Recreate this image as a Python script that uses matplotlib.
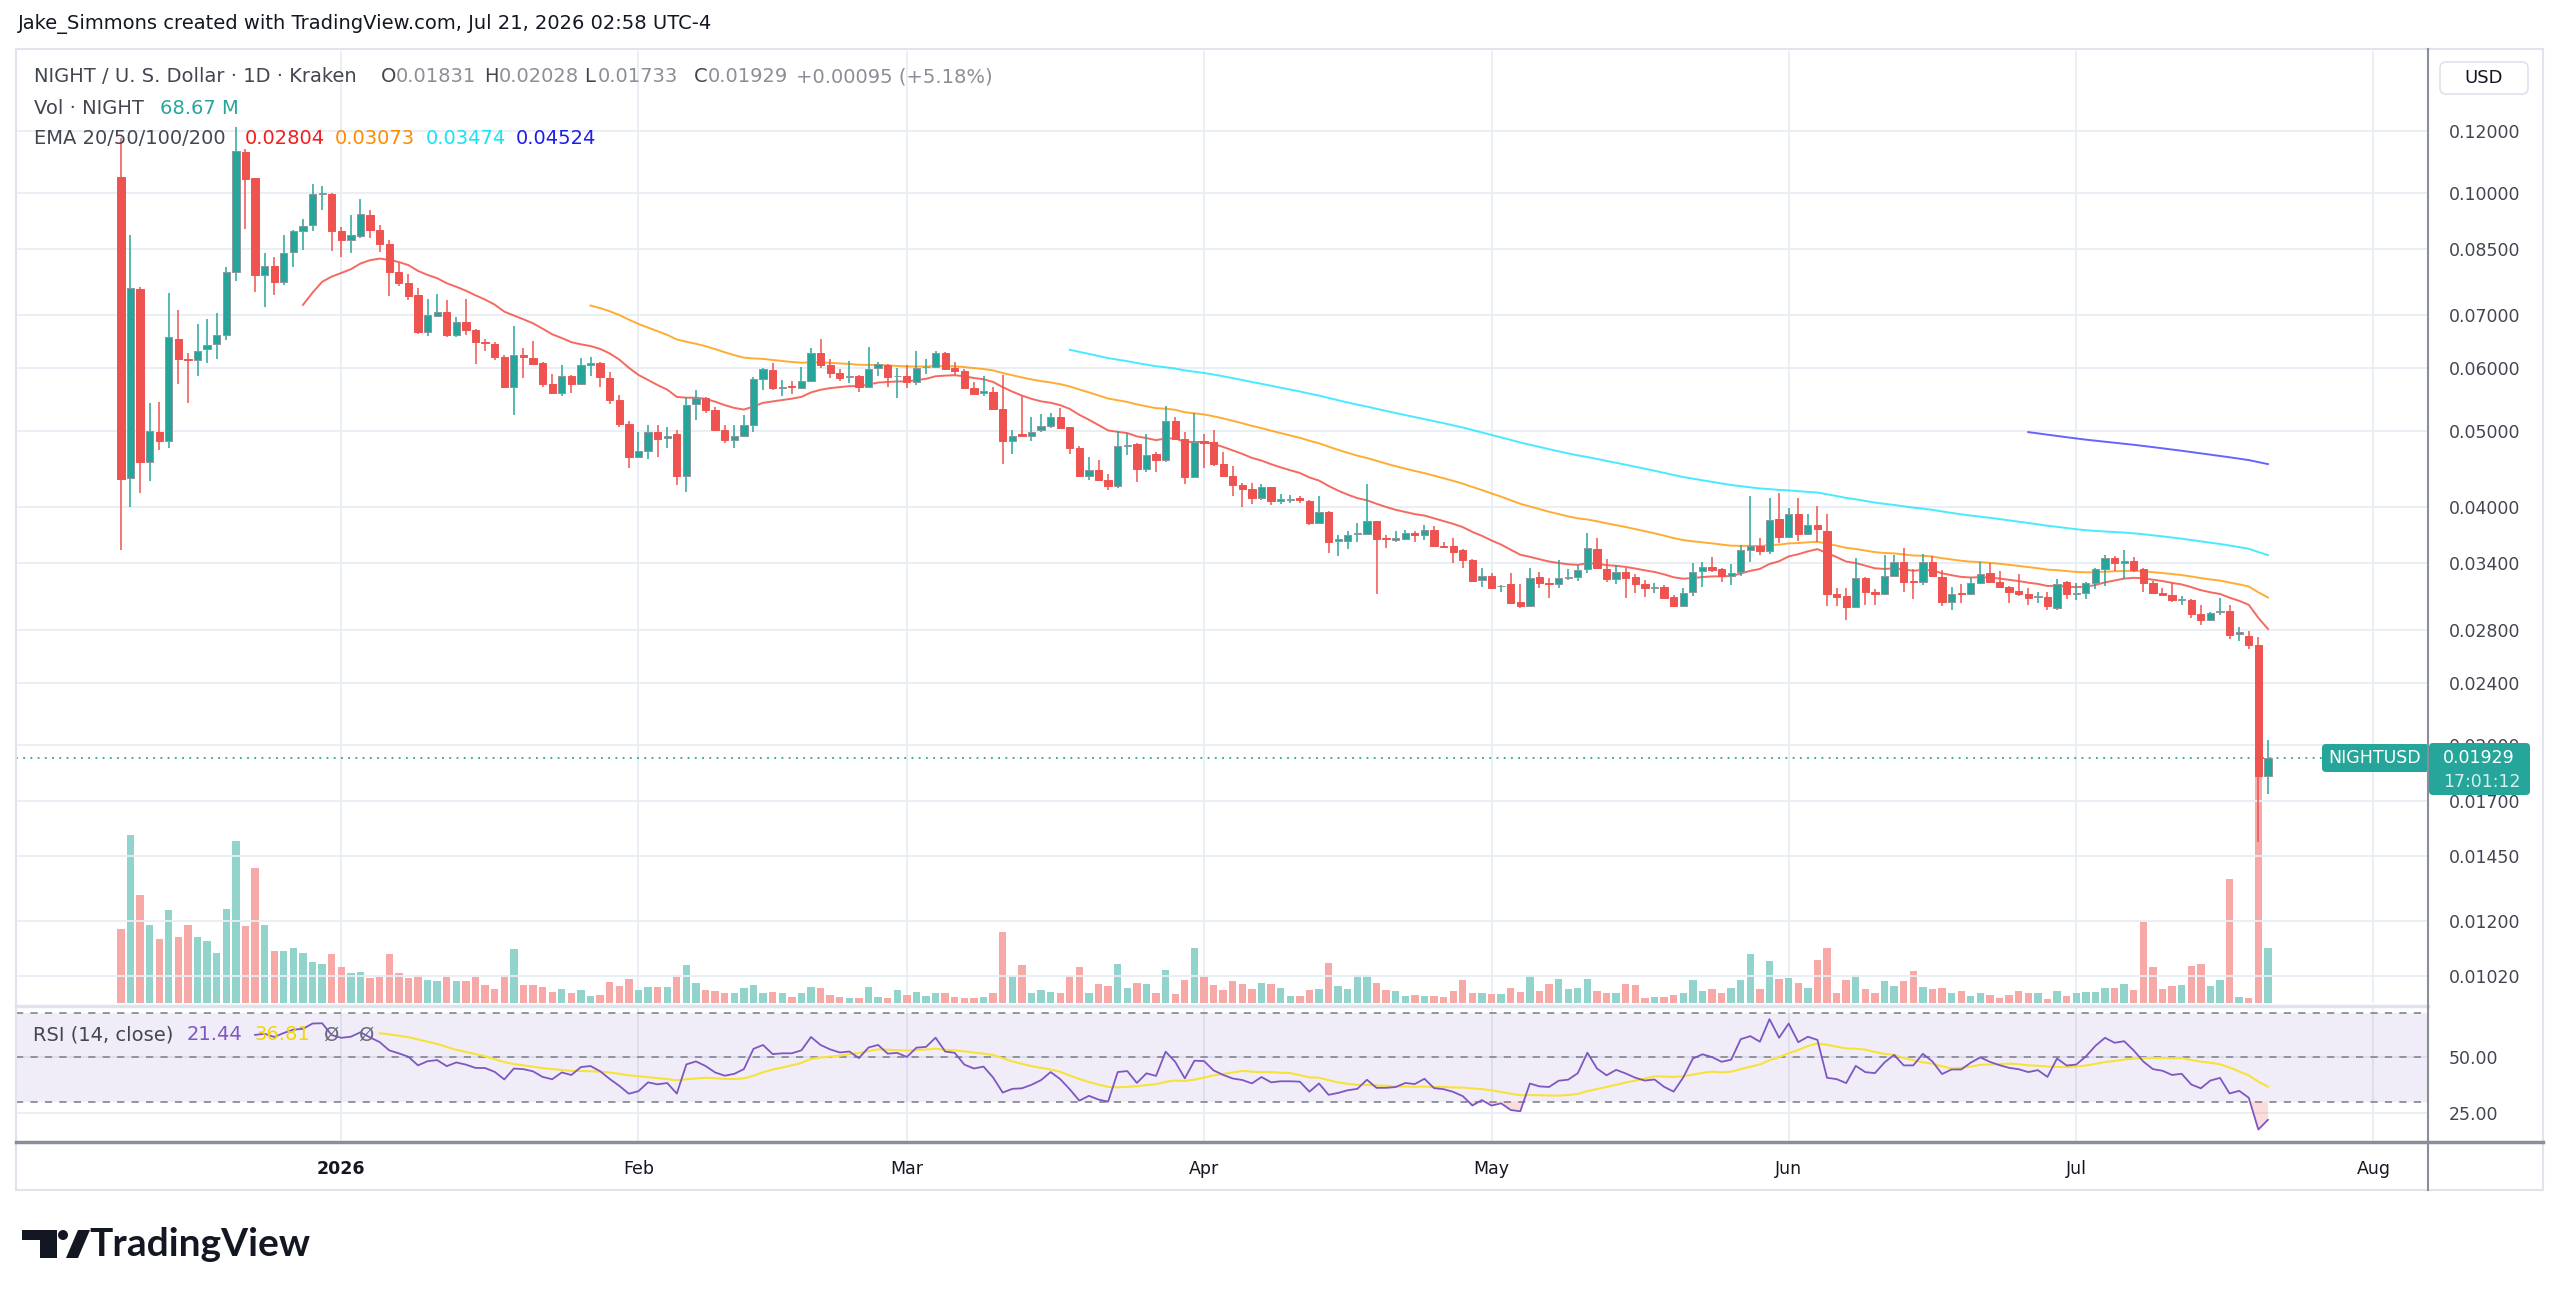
import numpy as np
import pandas as pd
import matplotlib
matplotlib.use('Agg')
import matplotlib.pyplot as plt
import matplotlib.dates as mdates
from matplotlib.patches import Rectangle, FancyBboxPatch, Polygon, Circle

# daily NIGHT/USD candles, 2025-12-09 .. 2026-07-21
opens = [0.1047, 0.0436, 0.0757, 0.0457, 0.0499, 0.0485, 0.0654, 0.0617, 0.0614, 0.0634,
         0.0644, 0.0661, 0.0794, 0.1126, 0.1044, 0.0788, 0.0809, 0.0771, 0.0841, 0.0896,
         0.0910, 0.0998, 0.0997, 0.0895, 0.0871, 0.0882, 0.0938, 0.0899, 0.0862, 0.0794,
         0.0769, 0.0742, 0.0668, 0.0699, 0.0708, 0.0661, 0.0686, 0.0670, 0.0647, 0.0645,
         0.0621, 0.0569, 0.0624, 0.0618, 0.0609, 0.0573, 0.0559, 0.0587, 0.0573, 0.0606,
         0.0610, 0.0583, 0.0547, 0.0510, 0.0463, 0.0471, 0.0499, 0.0490, 0.0495, 0.0439,
         0.0540, 0.0551, 0.0531, 0.0501, 0.0487, 0.0493, 0.0508, 0.0582, 0.0597, 0.0567,
         0.0570, 0.0567, 0.0579, 0.0628, 0.0606, 0.0592, 0.0585, 0.0586, 0.0568, 0.0601,
         0.0605, 0.0586, 0.0587, 0.0577, 0.0602, 0.0602, 0.0628, 0.0600, 0.0596, 0.0567,
         0.0558, 0.0560, 0.0533, 0.0485, 0.0495, 0.0493, 0.0502, 0.0507, 0.0521, 0.0505,
         0.0476, 0.0438, 0.0446, 0.0433, 0.0426, 0.0478, 0.0481, 0.0448, 0.0467, 0.0459,
         0.0514, 0.0488, 0.0437, 0.0485, 0.0484, 0.0454, 0.0439, 0.0427, 0.0422, 0.0411,
         0.0424, 0.0408, 0.0409, 0.0411, 0.0408, 0.0382, 0.0395, 0.0363, 0.0363, 0.0370,
         0.0370, 0.0384, 0.0366, 0.0364, 0.0365, 0.0371, 0.0369, 0.0375, 0.0358, 0.0357,
         0.0353, 0.0343, 0.0324, 0.0328, 0.0318, 0.0320, 0.0304, 0.0300, 0.0327, 0.0321,
         0.0320, 0.0326, 0.0327, 0.0334, 0.0354, 0.0334, 0.0325, 0.0331, 0.0327, 0.0320,
         0.0316, 0.0317, 0.0308, 0.0300, 0.0313, 0.0332, 0.0336, 0.0334, 0.0328, 0.0331,
         0.0353, 0.0357, 0.0352, 0.0387, 0.0367, 0.0393, 0.0370, 0.0380, 0.0374, 0.0311,
         0.0309, 0.0299, 0.0326, 0.0313, 0.0311, 0.0328, 0.0341, 0.0323, 0.0322, 0.0341,
         0.0327, 0.0304, 0.0312, 0.0311, 0.0321, 0.0330, 0.0322, 0.0317, 0.0314, 0.0311,
         0.0308, 0.0308, 0.0298, 0.0322, 0.0311, 0.0312, 0.0321, 0.0334, 0.0345, 0.0340,
         0.0342, 0.0334, 0.0321, 0.0312, 0.0310, 0.0305, 0.0305, 0.0293, 0.0288, 0.0295,
         0.0296, 0.0277, 0.0275, 0.0268, 0.01831]
highs = [0.1173, 0.0885, 0.0760, 0.0543, 0.0544, 0.0748, 0.0711, 0.0627, 0.0682, 0.0692,
         0.0706, 0.0807, 0.1211, 0.1136, 0.1046, 0.0839, 0.0831, 0.0885, 0.0897, 0.0926,
         0.1027, 0.1022, 0.1000, 0.0905, 0.0938, 0.0982, 0.0952, 0.0911, 0.0871, 0.0816,
         0.0791, 0.0758, 0.0734, 0.0746, 0.0732, 0.0697, 0.0734, 0.0672, 0.0654, 0.0647,
         0.0624, 0.0678, 0.0636, 0.0650, 0.0611, 0.0591, 0.0605, 0.0589, 0.0618, 0.0621,
         0.0611, 0.0594, 0.0555, 0.0514, 0.0498, 0.0508, 0.0509, 0.0506, 0.0502, 0.0551,
         0.0564, 0.0552, 0.0536, 0.0509, 0.0509, 0.0523, 0.0585, 0.0601, 0.0610, 0.0580,
         0.0578, 0.0603, 0.0636, 0.0654, 0.0617, 0.0599, 0.0613, 0.0589, 0.0639, 0.0611,
         0.0607, 0.0600, 0.0606, 0.0631, 0.0616, 0.0631, 0.0629, 0.0611, 0.0598, 0.0577,
         0.0586, 0.0569, 0.0589, 0.0502, 0.0554, 0.0520, 0.0525, 0.0527, 0.0534, 0.0506,
         0.0478, 0.0464, 0.0459, 0.0441, 0.0500, 0.0497, 0.0483, 0.0495, 0.0470, 0.0538,
         0.0521, 0.0499, 0.0526, 0.0496, 0.0502, 0.0470, 0.0451, 0.0429, 0.0429, 0.0428,
         0.0425, 0.0416, 0.0415, 0.0414, 0.0409, 0.0414, 0.0396, 0.0369, 0.0373, 0.0382,
         0.0428, 0.0385, 0.0369, 0.0374, 0.0375, 0.0373, 0.0380, 0.0379, 0.0362, 0.0366,
         0.0354, 0.0344, 0.0335, 0.0330, 0.0319, 0.0330, 0.0320, 0.0335, 0.0331, 0.0326,
         0.0343, 0.0334, 0.0338, 0.0371, 0.0366, 0.0344, 0.0338, 0.0335, 0.0329, 0.0324,
         0.0321, 0.0319, 0.0310, 0.0316, 0.0340, 0.0341, 0.0346, 0.0335, 0.0339, 0.0359,
         0.0413, 0.0366, 0.0411, 0.0417, 0.0399, 0.0411, 0.0393, 0.0402, 0.0392, 0.0316,
         0.0316, 0.0345, 0.0327, 0.0315, 0.0348, 0.0348, 0.0355, 0.0334, 0.0349, 0.0347,
         0.0333, 0.0317, 0.0320, 0.0326, 0.0341, 0.0340, 0.0332, 0.0318, 0.0329, 0.0316,
         0.0313, 0.0313, 0.0325, 0.0323, 0.0321, 0.0322, 0.0335, 0.0348, 0.0347, 0.0353,
         0.0346, 0.0335, 0.0323, 0.0316, 0.0321, 0.0309, 0.0306, 0.0301, 0.0295, 0.0307,
         0.0301, 0.0282, 0.0279, 0.0274, 0.02028]
lows = [0.0353, 0.0400, 0.0417, 0.0432, 0.0473, 0.0475, 0.0574, 0.0543, 0.0587, 0.0609,
        0.0617, 0.0651, 0.0774, 0.0900, 0.0749, 0.0718, 0.0743, 0.0764, 0.0807, 0.0847,
        0.0895, 0.0952, 0.0845, 0.0831, 0.0839, 0.0876, 0.0876, 0.0842, 0.0741, 0.0762,
        0.0732, 0.0663, 0.0660, 0.0697, 0.0658, 0.0658, 0.0661, 0.0607, 0.0631, 0.0614,
        0.0566, 0.0523, 0.0583, 0.0606, 0.0569, 0.0557, 0.0554, 0.0558, 0.0571, 0.0586,
        0.0569, 0.0540, 0.0505, 0.0449, 0.0462, 0.0461, 0.0463, 0.0475, 0.0427, 0.0418,
        0.0516, 0.0527, 0.0500, 0.0483, 0.0476, 0.0491, 0.0498, 0.0564, 0.0564, 0.0554,
        0.0556, 0.0565, 0.0578, 0.0601, 0.0583, 0.0578, 0.0575, 0.0560, 0.0566, 0.0587,
        0.0569, 0.0551, 0.0566, 0.0571, 0.0591, 0.0600, 0.0597, 0.0589, 0.0566, 0.0556,
        0.0554, 0.0533, 0.0454, 0.0468, 0.0492, 0.0485, 0.0498, 0.0504, 0.0503, 0.0468,
        0.0437, 0.0433, 0.0432, 0.0421, 0.0423, 0.0466, 0.0431, 0.0444, 0.0444, 0.0457,
        0.0487, 0.0428, 0.0436, 0.0449, 0.0452, 0.0438, 0.0414, 0.0401, 0.0404, 0.0409,
        0.0403, 0.0404, 0.0405, 0.0405, 0.0380, 0.0381, 0.0350, 0.0347, 0.0354, 0.0362,
        0.0369, 0.0311, 0.0355, 0.0362, 0.0364, 0.0362, 0.0364, 0.0357, 0.0355, 0.0340,
        0.0335, 0.0322, 0.0317, 0.0316, 0.0313, 0.0303, 0.0298, 0.0300, 0.0316, 0.0307,
        0.0316, 0.0324, 0.0323, 0.0330, 0.0335, 0.0322, 0.0320, 0.0307, 0.0312, 0.0308,
        0.0312, 0.0307, 0.0299, 0.0299, 0.0309, 0.0317, 0.0331, 0.0322, 0.0319, 0.0328,
        0.0341, 0.0348, 0.0349, 0.0361, 0.0366, 0.0363, 0.0369, 0.0362, 0.0300, 0.0300,
        0.0288, 0.0299, 0.0301, 0.0301, 0.0310, 0.0328, 0.0313, 0.0306, 0.0319, 0.0327,
        0.0300, 0.0297, 0.0303, 0.0310, 0.0320, 0.0321, 0.0316, 0.0303, 0.0309, 0.0301,
        0.0303, 0.0297, 0.0297, 0.0306, 0.0305, 0.0306, 0.0315, 0.0318, 0.0332, 0.0325,
        0.0331, 0.0313, 0.0312, 0.0309, 0.0304, 0.0301, 0.0290, 0.0284, 0.0287, 0.0292,
        0.0273, 0.0271, 0.0265, 0.0151, 0.01733]
closes = [0.0434, 0.0758, 0.0457, 0.0500, 0.0486, 0.0657, 0.0616, 0.0615, 0.0632, 0.0642,
          0.0661, 0.0794, 0.1131, 0.1042, 0.0788, 0.0809, 0.0772, 0.0839, 0.0896, 0.0909,
          0.0997, 0.1001, 0.0896, 0.0871, 0.0885, 0.0940, 0.0899, 0.0862, 0.0794, 0.0769,
          0.0741, 0.0668, 0.0700, 0.0708, 0.0661, 0.0686, 0.0670, 0.0647, 0.0646, 0.0621,
          0.0569, 0.0624, 0.0620, 0.0607, 0.0573, 0.0559, 0.0587, 0.0573, 0.0605, 0.0609,
          0.0585, 0.0547, 0.0510, 0.0463, 0.0471, 0.0499, 0.0489, 0.0493, 0.0439, 0.0539,
          0.0551, 0.0531, 0.0502, 0.0487, 0.0493, 0.0508, 0.0582, 0.0598, 0.0566, 0.0569,
          0.0569, 0.0579, 0.0628, 0.0605, 0.0592, 0.0583, 0.0586, 0.0568, 0.0599, 0.0607,
          0.0585, 0.0587, 0.0577, 0.0601, 0.0603, 0.0628, 0.0598, 0.0595, 0.0567, 0.0557,
          0.0561, 0.0533, 0.0485, 0.0492, 0.0493, 0.0499, 0.0507, 0.0521, 0.0504, 0.0476,
          0.0438, 0.0446, 0.0433, 0.0426, 0.0478, 0.0480, 0.0447, 0.0466, 0.0459, 0.0514,
          0.0488, 0.0437, 0.0484, 0.0483, 0.0454, 0.0439, 0.0427, 0.0422, 0.0411, 0.0424,
          0.0408, 0.0410, 0.0410, 0.0409, 0.0382, 0.0395, 0.0362, 0.0365, 0.0369, 0.0371,
          0.0384, 0.0365, 0.0365, 0.0366, 0.0371, 0.0369, 0.0375, 0.0358, 0.0356, 0.0351,
          0.0343, 0.0323, 0.0328, 0.0316, 0.0318, 0.0303, 0.0300, 0.0326, 0.0321, 0.0320,
          0.0326, 0.0327, 0.0333, 0.0355, 0.0335, 0.0325, 0.0331, 0.0326, 0.0320, 0.0316,
          0.0317, 0.0307, 0.0300, 0.0312, 0.0331, 0.0336, 0.0333, 0.0328, 0.0330, 0.0353,
          0.0357, 0.0352, 0.0386, 0.0367, 0.0393, 0.0370, 0.0380, 0.0376, 0.0311, 0.0308,
          0.0299, 0.0326, 0.0313, 0.0311, 0.0328, 0.0341, 0.0322, 0.0322, 0.0341, 0.0328,
          0.0304, 0.0311, 0.0311, 0.0321, 0.0329, 0.0322, 0.0317, 0.0313, 0.0311, 0.0307,
          0.0309, 0.0300, 0.0320, 0.0311, 0.0312, 0.0321, 0.0334, 0.0345, 0.0340, 0.0342,
          0.0333, 0.0321, 0.0312, 0.0310, 0.0305, 0.0306, 0.0293, 0.0288, 0.0294, 0.0296,
          0.0276, 0.0278, 0.0268, 0.01831, 0.01929]
# volume, millions of NIGHT
volumes = [92, 210, 135, 98, 80, 116, 82, 98, 82, 78,
           63, 118, 202, 96, 169, 98, 65, 65, 69, 63,
           51, 49, 61, 45, 37, 39, 31, 33, 61, 37,
           31, 35, 29, 27, 33, 27, 27, 33, 22, 18,
           35, 67, 22, 22, 20, 14, 18, 12, 16, 8.7,
           10.4, 26.7, 21.3, 30.6, 15.8, 19.6, 19.6, 19.6, 34.9, 46.9,
           25.1, 15.8, 14.7, 12, 12, 18.6, 22.9, 12, 14.2, 13.1,
           7.6, 12, 19.6, 18.6, 10.4, 7.6, 6, 6, 19.6, 7.6,
           6.5, 15.8, 10.4, 14.2, 9.3, 12, 13.1, 7.6, 6, 6.5,
           7.6, 12, 88.4, 33.8, 48, 12, 15.8, 14.2, 12, 33.8,
           44.7, 12, 24, 21.3, 48.6, 18.6, 25.1, 24, 12, 41,
           11.8, 28.9, 68.1, 33.8, 23, 16.7, 27.9, 24, 17.6, 25,
           24, 19.1, 9.3, 9.3, 16.7, 17.6, 49.5, 21.6, 17.6, 35.3,
           34.8, 25, 16.7, 15.2, 9.3, 10.3, 9.3, 9.3, 7.8, 15.2,
           28.2, 13, 12.2, 11.3, 11.3, 18.7, 13.5, 33.9, 15.6, 23.9,
           29.5, 17.8, 18.7, 29.5, 15.6, 12.2, 12.2, 23.9, 22.1, 6.5,
           7.4, 7.4, 10, 13, 28.6, 15.6, 17.8, 12.2, 18.7, 28.6,
           60.8, 16.9, 53, 30.4, 31.3, 24.7, 18.7, 54.3, 68.2, 13,
           28.2, 34.7, 17.4, 12.6, 27.8, 21.7, 27.8, 39.9, 19.5, 16.9,
           18.2, 13, 14.8, 8.2, 12.6, 9.6, 6.5, 10.4, 14.8, 12.6,
           12, 5.4, 15.4, 9.2, 12.9, 14.2, 13.3, 18.3, 19.2, 24.1,
           16.7, 101.1, 45, 17.5, 20.8, 22.1, 45.8, 49.1, 21.2, 29.1,
           155.3, 7.5, 6.2, 380, 68.67]

price_levels = [0.0102, 0.012, 0.0145, 0.017, 0.02, 0.024, 0.028, 0.034,
                0.04, 0.05, 0.06, 0.07, 0.085, 0.10, 0.12]
month_ticks = ['2026-01-01', '2026-02-01', '2026-03-01', '2026-04-01',
               '2026-05-01', '2026-06-01', '2026-07-01', '2026-08-01']
month_labels = ['2026', 'Feb', 'Mar', 'Apr', 'May', 'Jun', 'Jul', 'Aug']

W, H = 2560, 1300
UP, DOWN = '#26a69a', '#ef5350'
GRID = '#e8edf4'
TXT = '#434651'


def rect(x0, y0, x1, y1):
    return [x0 / W, 1 - y1 / H, (x1 - x0) / W, (y1 - y0) / H]


def ema(v, n):
    out = np.full(len(v), np.nan)
    out[n - 1] = v[:n].mean()
    a = 2.0 / (n + 1)
    for i in range(n, len(v)):
        out[i] = a * v[i] + (1 - a) * out[i - 1]
    return out


def rsi(c, n=14):
    d = np.diff(c)
    up = np.clip(d, 0, None)
    dn = np.clip(-d, 0, None)
    out = np.full(len(c), np.nan)
    au, ad = up[:n].mean(), dn[:n].mean()
    out[n] = 100 - 100 / (1 + au / ad)
    for i in range(n + 1, len(c)):
        au = (au * (n - 1) + up[i - 1]) / n
        ad = (ad * (n - 1) + dn[i - 1]) / n
        out[i] = 100 - 100 / (1 + au / ad)
    return out


o = np.array(opens); h = np.array(highs); l = np.array(lows); c = np.array(closes)
vol = np.array(volumes)
dates = pd.date_range('2025-12-09', periods=len(c), freq='D')
x = mdates.date2num(dates)
jan1 = mdates.date2num(pd.Timestamp('2026-01-01'))
xlim = (jan1 - 33.94, jan1 + 217.7)
up = c >= o
cols = np.where(up, UP, DOWN)

fig = plt.figure(figsize=(25.6, 13), dpi=100)
fig.patch.set_facecolor('white')

# volume underneath, price on top
axv = fig.add_axes(rect(16, 51, 2428, 1003))
ax = fig.add_axes(rect(16, 51, 2428, 1003), sharex=axv)
axv.set_zorder(1); ax.set_zorder(2); ax.patch.set_visible(False)
axv.set_xlim(*xlim)
axv.set_ylim(0, (1003 - 51) * 1.249)
axv.bar(x, vol, width=0.77, color=np.where(up, '#92d3cc', '#f7a9a7'), zorder=2)
for mt in month_ticks:
    axv.axvline(mdates.date2num(pd.Timestamp(mt)), color=GRID, lw=1.3, zorder=0)
axv.axis('off')

ax.set_yscale('log')
ax.set_ylim(0.009436, 0.1513)
ax.set_yticks(price_levels)
ax.yaxis.set_minor_locator(matplotlib.ticker.NullLocator())
ax.set_yticklabels([f'{p:.5f}' for p in price_levels])
ax.yaxis.tick_right()
ax.tick_params(axis='y', length=0, pad=15, labelsize=12.5, labelcolor=TXT)
ax.tick_params(axis='x', length=0, labelbottom=False)
ax.grid(axis='y', color=GRID, lw=1.3, zorder=0)
for s in ax.spines.values():
    s.set_visible(False)

# EMAs
for n, col in [(20, '#f44336'), (50, '#ff9800'), (100, '#18e6ff'), (200, '#3d3dff')]:
    ax.plot(x, ema(c, n), color=col, lw=1.4, alpha=0.8, zorder=3)

# candles
ax.vlines(x, l, h, colors=cols, lw=1.1, zorder=4)
ax.bar(x, np.abs(c - o), bottom=np.minimum(o, c), width=0.76, color=cols,
       edgecolor=np.where(up, '#8c979c', DOWN), linewidth=0.7, zorder=5)
ax.axhline(c[-1], color=UP, ls=(0, (1, 3)), lw=1.3, zorder=3)

# RSI pane
r = rsi(c)
rma = pd.Series(r).rolling(14).mean().values
axr = fig.add_axes(rect(16, 1008, 2428, 1142), sharex=axv)
axr.set_ylim(11.9, 72.2)
axr.axhspan(30, 70, color='#7e57c2', alpha=0.1, lw=0)
for lev in (50, 25):
    axr.axhline(lev, color=GRID, lw=1.3, zorder=0)
for mt in month_ticks:
    axr.axvline(mdates.date2num(pd.Timestamp(mt)), color=GRID, lw=1.3, zorder=0)
for lev in (70, 50, 30):
    axr.axhline(lev, color='#8a8d96', lw=1.3, ls=(0, (4, 4)), zorder=1)
axr.fill_between(x, r, 30, where=r < 30, color=DOWN, alpha=0.2, lw=0, interpolate=True)
axr.fill_between(x, r, 70, where=r > 70, color=UP, alpha=0.2, lw=0, interpolate=True)
axr.plot(x, r, color='#7e57c2', lw=1.3, zorder=3)
axr.plot(x, rma, color='#f7e23b', lw=1.5, zorder=2)
axr.yaxis.tick_right()
axr.set_yticks([25, 50])
axr.set_yticklabels(['25.00', '50.00'])
axr.set_xticks([mdates.date2num(pd.Timestamp(m)) for m in month_ticks])
axr.set_xticklabels(month_labels)
axr.tick_params(axis='both', length=0, labelsize=12.5, labelcolor=TXT)
axr.tick_params(axis='y', pad=15)
axr.tick_params(axis='x', pad=13, labelcolor='#131722')
axr.get_xticklabels()[0].set_fontweight('bold')
for s in axr.spines.values():
    s.set_visible(False)

# overlay in pixel coordinates for frame, legends and labels
ov = fig.add_axes([0, 0, 1, 1])
ov.set_xlim(0, W); ov.set_ylim(H, 0); ov.axis('off'); ov.set_zorder(10)
ov.patch.set_visible(False)
ov.add_patch(Rectangle((16, 49), 2527, 1141, fill=False, ec='#e0e3eb', lw=1.5))
ov.plot([16, 2428], [1005.5, 1005.5], color='#e0e3eb', lw=2.5)
ov.plot([16, 2543], [1142, 1142], color='#8a8e99', lw=2.5)
ov.plot([2428, 2428], [49, 1190], color='#8a8e99', lw=1.5)
ov.add_patch(FancyBboxPatch((2440, 62), 88, 32, boxstyle='round,pad=0,rounding_size=6',
                            fc='white', ec='#e0e3eb', lw=1.2))
ov.text(2484, 78, 'USD', ha='center', va='center', fontsize=13, color='#131722')

# last price labels
ov.add_patch(FancyBboxPatch((2322, 744), 107, 28, boxstyle='round,pad=0,rounding_size=4',
                            fc=UP, ec='none'))
ov.text(2375, 758, 'NIGHTUSD', ha='center', va='center', fontsize=12.5, color='white')
ov.add_patch(FancyBboxPatch((2429, 743), 101, 52, boxstyle='round,pad=0,rounding_size=4',
                            fc=UP, ec='none'))
ov.text(2443, 758, '0.01929', ha='left', va='center', fontsize=12.5, color='white')
ov.text(2443, 782, '17:01:12', ha='left', va='center', fontsize=12.5, color='#d5efeb')

# header
ov.text(18, 24, 'Jake_Simmons created with TradingView.com, Jul 21, 2026 02:58 UTC-4',
        ha='left', va='center', fontsize=14, color='#131722')
ov.text(34, 77, 'NIGHT / U. S. Dollar \u00b7 1D \u00b7 Kraken', ha='left', va='center',
        fontsize=14, color=TXT)
for xx, s, col in [(381, 'O', TXT), (396, '0.01831', '#8b8e97'), (484, 'H', TXT),
                   (499, '0.02028', '#8b8e97'), (584, 'L', TXT), (598, '0.01733', '#8b8e97'),
                   (694, 'C', TXT), (708, '0.01929', '#8b8e97'),
                   (796, '+0.00095 (+5.18%)', '#8b8e97')]:
    ov.text(xx, 77, s, ha='left', va='center', fontsize=14, color=col)
ov.text(34, 108, 'Vol \u00b7 NIGHT', ha='left', va='center', fontsize=14, color=TXT)
ov.text(160, 108, '68.67 M', ha='left', va='center', fontsize=14, color=UP)
ov.text(34, 138, 'EMA 20/50/100/200', ha='left', va='center', fontsize=14, color=TXT)
for xx, s, col in [(245, '0.02804', '#f41c1c'), (335, '0.03073', '#ff8a00'),
                   (426, '0.03474', '#16e4f2'), (516, '0.04524', '#1c1cf0')]:
    ov.text(xx, 138, s, ha='left', va='center', fontsize=14, color=col)
ov.text(33, 1035, 'RSI (14, close)', ha='left', va='center', fontsize=14, color=TXT)
ov.text(187, 1035, '21.44', ha='left', va='center', fontsize=14, color='#7e57c2')
ov.text(254, 1035, '36.81', ha='left', va='center', fontsize=14, color='#f2d600')
for xx in (332, 367):
    ov.text(xx, 1035, '\u00d8', ha='center', va='center', fontsize=14, color='#6a6d78')

# TradingView logo
ov.add_patch(Polygon([(22, 1230), (57, 1230), (57, 1258), (40, 1258), (40, 1240), (22, 1240)],
                     closed=True, fc='#131722', ec='none'))
ov.add_patch(Circle((63, 1235), 5, fc='#131722', ec='none'))
ov.add_patch(Polygon([(66, 1258), (78, 1230), (90, 1230), (78, 1258)], closed=True,
                     fc='#131722', ec='none'))
ov.text(89, 1245, 'TradingView', ha='left', va='center', fontsize=28, fontweight='bold',
        family='Lato', color='#131722')

fig.savefig('out.png', dpi=100, facecolor='white')
